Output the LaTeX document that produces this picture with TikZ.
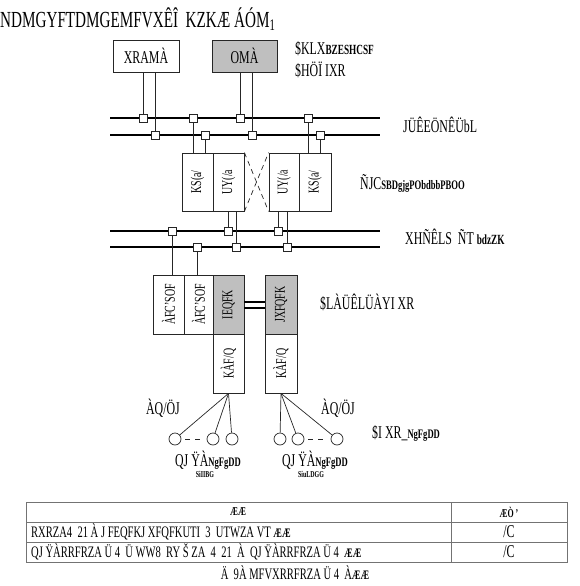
\documentclass[tikz,border=0pt]{standalone}
\usepackage{fontspec}
\setmainfont{Liberation Serif}[FakeStretch=0.66]
\newcommand\densebits[1]{{\fontsize{13}{13}\selectfont\bfseries #1}}
\begin{document}
\begin{tikzpicture}[x=1pt,y=-1pt,
  box/.style={draw=black!85, line width=0.8pt, inner sep=0pt, font=\fontsize{18}{18}\selectfont},
  rbox/.style={box, rotate=90, font=\fontsize{15}{15}\selectfont},
  grey/.style={fill=black!25},
  sq/.style={draw=black!85, fill=white, line width=0.8pt, minimum size=7pt, inner sep=0pt},
  bus/.style={line width=2.6pt},
  wire/.style={line width=0.7pt, draw=black!85},
  lbl/.style={inner sep=0pt, font=\fontsize{18}{18}\selectfont},
  circ/.style={circle, draw=black!85, line width=0.7pt, minimum size=12pt, inner sep=0pt},
  tline/.style={draw=black!55, line width=1pt},
  ttext/.style={inner sep=0pt, font=\fontsize{16}{16}\selectfont}
]
\useasboundingbox (0,0) rectangle (580,586);

% title
\node[lbl, anchor=west, font=\fontsize{23}{23}\selectfont] (title) at (0,19) {NDMGYFTDMGEMFVXÊÎ\ \ KZKÆ ÁÓM\textsubscript{1}};

% top boxes
\node[box, minimum width=66pt, minimum height=32pt] (b1) at (146,56) {XRAMÀ};
\node[box, grey, minimum width=65pt, minimum height=32pt] (b2) at (244.5,56) {OMÀ};
\node[lbl, anchor=west] (t1) at (295,49) {\$KLX\densebits{\fontsize{14}{14}\selectfont BZESHCSF}};
\node[lbl, anchor=west] (t2) at (295,70) {\$HÖÏ IXR};

% bus A
\coordinate (a1w) at (110,118); \coordinate (a1e) at (380,118);
\coordinate (a2w) at (110,135); \coordinate (a2e) at (380,135);
\draw[bus] (a1w) -- (a1e);
\draw[bus] (a2w) -- (a2e);
\node[lbl, anchor=west] (la) at (403,125) {JÜÊEÖNÊÜbL};

% middle boxes
\node[rbox, minimum width=58pt, minimum height=31pt] (m1) at (197.5,182) {KS(a/};
\node[rbox, minimum width=58pt, minimum height=31pt] (m2) at (228.5,182) {UY(/a};
\node[rbox, minimum width=58pt, minimum height=30pt] (m3) at (284,182) {UY(/a};
\node[rbox, minimum width=58pt, minimum height=32pt] (m4) at (315,182) {KS(a/};
\node[lbl, anchor=west] (lm) at (360,183) {ÑJC\densebits{SBDgjgPObdbbPBOO}};
\draw[wire, dash pattern=on 5pt off 4pt] (m2.south east) -- (m3.north west);
\draw[wire, dash pattern=on 5pt off 4pt] (m2.south west) -- (m3.north east);

% bus B
\coordinate (c1w) at (110,231); \coordinate (c1e) at (380,231);
\coordinate (c2w) at (110,247); \coordinate (c2e) at (380,247);
\draw[bus] (c1w) -- (c1e);
\draw[bus] (c2w) -- (c2e);
\node[lbl, anchor=west] (lb) at (405,237) {XHÑÊLS\ \ ÑT \densebits{\fontsize{14}{14}\selectfont bdzZK}};

% lower boxes
\node[rbox, minimum width=59pt, minimum height=31pt] (l1) at (168.5,304.5) {ÀFC'SOF};
\node[rbox, minimum width=59pt, minimum height=29pt] (l2) at (198.5,304.5) {ÀFC'SOF};
\node[rbox, grey, minimum width=59pt, minimum height=31pt] (l3) at (228.5,304.5) {IEQFK};
\node[rbox, grey, minimum width=59pt, minimum height=32pt] (l4) at (281,304.5) {JXFQFK};
\node[rbox, minimum width=59pt, minimum height=31pt] (l5) at (228.5,363.5) {KÀF/Q};
\node[rbox, minimum width=59pt, minimum height=32pt] (l6) at (281,363.5) {KÀF/Q};
\draw[line width=2pt] ([yshift=3pt]l3.south) -- ([yshift=3pt]l4.north);
\draw[line width=2pt] ([yshift=-3pt]l3.south) -- ([yshift=-3pt]l4.north);
\node[lbl, anchor=west] (ll) at (320,302) {\$LÀÜÊLÜÀYI XR};

% squares on bus A
\node[sq] (a11) at (143,118) {}; \node[sq] (a12) at (193,118) {};
\node[sq] (a13) at (240,118) {}; \node[sq] (a14) at (308,118) {};
\node[sq] (a21) at (155,135) {}; \node[sq] (a22) at (205,135) {};
\node[sq] (a23) at (252,135) {}; \node[sq] (a24) at (320,135) {};
% squares on bus B
\node[sq] (b11) at (172,231) {}; \node[sq] (b12) at (228,231) {}; \node[sq] (b13) at (278,231) {};
\node[sq] (b21) at (197,247) {}; \node[sq] (b22) at (236,247) {}; \node[sq] (b23) at (287,247) {};

% wires
\draw[wire] (a11 |- b1.south) -- (a11.north);
\draw[wire] (a21 |- b1.south) -- (a21.north);
\draw[wire] (a13 |- b2.south) -- (a13.north);
\draw[wire] (a23 |- b2.south) -- (a23.north);
\draw[wire] (a12.south) -- (a12 |- m1.east);
\draw[wire] (a22.south) -- (a22 |- m1.east);
\draw[wire] (a14.south) -- (a14 |- m4.east);
\draw[wire] (a24.south) -- (a24 |- m4.east);
\draw[wire] (b12 |- m2.west) -- (b12.north);
\draw[wire] (b22 |- m2.west) -- (b22.north);
\draw[wire] (b13 |- m3.west) -- (b13.north);
\draw[wire] (b23 |- m3.west) -- (b23.north);
\draw[wire] (b11.south) -- (b11 |- l1.east);
\draw[wire] (b21.south) -- (b21 |- l2.east);
% squares on top of the wires
\foreach \n in {a11,a12,a13,a14,a21,a22,a23,a24,b11,b12,b13,b21,b22,b23}
  \draw[draw=black!85, fill=white, line width=0.8pt] (\n.south west) rectangle (\n.north east);

% fans and end devices
\node[circ] (c1) at (175,439) {}; \node[circ] (c2) at (213,439) {}; \node[circ] (c3) at (232,439) {};
\node[circ] (c4) at (280,439) {}; \node[circ] (c5) at (298,439) {}; \node[circ] (c6) at (337,439) {};
\foreach \c in {c1,c2,c3} \draw[wire] (l5.west) -- (\c);
\foreach \c in {c4,c5,c6} \draw[wire] (l6.west) -- (\c);
\draw[wire, dash pattern=on 5pt off 5pt, shorten <=4pt, shorten >=3pt] (c1) -- (c2);
\draw[wire, dash pattern=on 5pt off 5pt, shorten <=4pt, shorten >=3pt] (c5) -- (c6);
\node[lbl] (q1) at (163,408) {ÀQ/ÖJ};
\node[lbl] (q2) at (338,408) {ÀQ/ÖJ};
\node[lbl, anchor=west] (lr) at (372,433) {\$I XR\_\densebits{NgFgDD}};
\node[lbl, anchor=base] (d1) at (208,466) {QJ ŸÀ\densebits{NgFgDD}};
\node[lbl, anchor=base, font=\fontsize{9}{9}\selectfont\bfseries] (e1) at (205,477) {SiIIBG};
\node[lbl, anchor=base] (d2) at (315,466) {QJ ŸÀ\densebits{NgFgDD}};
\node[lbl, anchor=base, font=\fontsize{9}{9}\selectfont\bfseries] (e2) at (311,477) {SiuLDGG};

% table
\coordinate (tnw) at (26,502); \coordinate (tse) at (567,562);
\draw[tline] (tnw) rectangle (tse);
\coordinate (r1w) at (26,522); \coordinate (r1e) at (567,522);
\coordinate (r2w) at (26,542); \coordinate (r2e) at (567,542);
\coordinate (vt) at (451,502); \coordinate (vb) at (451,562);
\draw[tline] (r1w) -- (r1e);
\draw[tline] (r2w) -- (r2e);
\draw[tline] (vt) -- (vb);
\node[ttext, font=\fontsize{12}{12}\selectfont\bfseries] (h1) at (238,512) {ÆÆ};
\node[ttext, font=\fontsize{12}{12}\selectfont\bfseries] (h2) at (509,512) {ÆÒ\,'};
\node[ttext, anchor=west] (r1) at (31,532) {RXRZA4\ \ 21\ À\ J FEQFKJ XFQFKUTI\ \ 3\ \ UTWZA\ VT\ \densebits{ÆÆ}};
\node[ttext, anchor=west] (r2) at (31,552) {QJ ŸÀRRFRZA Ü\ 4\ \ Ü WW8\ \ RY Š\ ZA\ \ 4\ \ 21\ \ À\ \ QJ ŸÀRRFRZA Ü\ 4\ \ \densebits{ÆÆ}};
\node[ttext, font=\fontsize{18}{18}\selectfont] (u1) at (509,532) {/C};
\node[ttext, font=\fontsize{18}{18}\selectfont] (u2) at (509,552) {/C};
\node[ttext] (cap) at (295,573) {Ä\ \ 9À MFVXRRFRZA Ü\ 4\ \ À\densebits{ÆÆ}};
\end{tikzpicture}
\end{document}
